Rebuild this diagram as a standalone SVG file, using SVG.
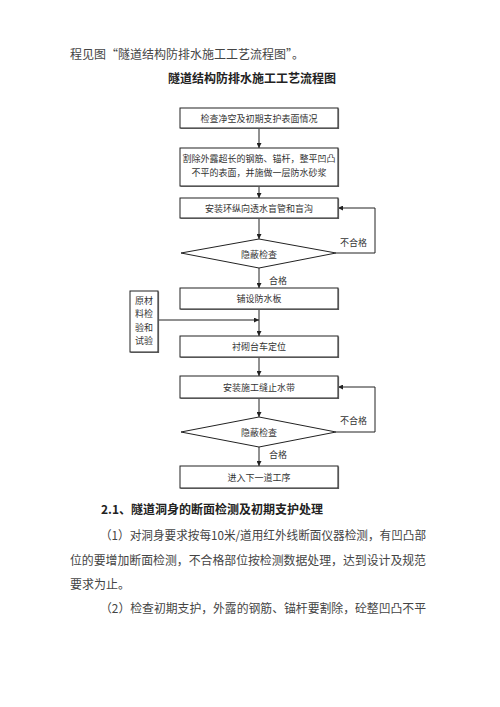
<svg xmlns="http://www.w3.org/2000/svg" width="500" height="707" viewBox="0 0 500 707">
<defs>
<style>
.bg{fill:#fff}
.box{fill:#fff;stroke:#222;stroke-width:1}
.sh{fill:none;stroke:#555;stroke-width:1.2}
.ln{fill:none;stroke:#222;stroke-width:1}
.t{font-family:"Noto Sans CJK SC","Noto Sans CJK JP",sans-serif;font-size:9px;fill:#333;text-anchor:middle;dominant-baseline:central}
.lb{font-family:"Noto Sans CJK SC","Noto Sans CJK JP",sans-serif;font-size:9px;fill:#333;dominant-baseline:central}
.body{font-family:"Noto Sans CJK SC","Noto Sans CJK JP",sans-serif;font-size:12px;fill:#444;dominant-baseline:central}
.hd{font-family:"Noto Sans CJK SC","Noto Sans CJK JP",sans-serif;font-size:12px;font-weight:bold;fill:#222;dominant-baseline:central}
</style>
<marker id="ah" viewBox="0 0 10 10" refX="10" refY="5" markerWidth="5" markerHeight="5" orient="auto" markerUnits="userSpaceOnUse">
<path d="M0,0 L10,5 L0,10 z" fill="#222"/>
</marker>
</defs>
<rect class="bg" x="0" y="0" width="500" height="707"/>

<g id="intro">
<text class="body" x="70" y="53">程见图“隧道结构防排水施工工艺流程图”。</text>
<text class="hd" x="252" y="77" text-anchor="middle">隧道结构防排水施工工艺流程图</text>
</g>

<g id="connectors">
<line class="ln" x1="259" y1="128" x2="259" y2="148" marker-end="url(#ah)"/>
<line class="ln" x1="259" y1="186" x2="259" y2="198" marker-end="url(#ah)"/>
<line class="ln" x1="259" y1="218" x2="259" y2="239" marker-end="url(#ah)"/>
<polyline class="ln" points="336,253 375,253 375,208 338,208" marker-end="url(#ah)"/>
<line class="ln" x1="259" y1="268" x2="259" y2="288" marker-end="url(#ah)"/>
<line class="ln" x1="259" y1="309" x2="259" y2="336" marker-end="url(#ah)"/>
<line class="ln" x1="158" y1="320" x2="259" y2="320" marker-end="url(#ah)"/>
<line class="ln" x1="259" y1="357" x2="259" y2="376" marker-end="url(#ah)"/>
<line class="ln" x1="259" y1="398" x2="259" y2="417" marker-end="url(#ah)"/>
<polyline class="ln" points="336,432 375,432 375,387 338,387" marker-end="url(#ah)"/>
<line class="ln" x1="259" y1="447" x2="259" y2="466" marker-end="url(#ah)"/>
<text class="lb" x="340" y="242">不合格</text>
<text class="lb" x="269" y="280">合格</text>
<text class="lb" x="340" y="420">不合格</text>
<text class="lb" x="269" y="454">合格</text>
</g>

<g id="n1">
<rect class="box" x="180" y="108" width="158" height="20"/>
<polyline class="sh" points="338.5,108.5 338.5,128.5 180.5,128.5"/>
<text class="t" x="259" y="118">检查净空及初期支护表面情况</text>
</g>
<g id="n2">
<rect class="box" x="180" y="148" width="158" height="38"/>
<polyline class="sh" points="338.5,148.5 338.5,186.5 180.5,186.5"/>
<text class="t" x="259" y="158">割除外露超长的钢筋、锚杆，整平凹凸</text>
<text class="t" x="259" y="172">不平的表面，并施做一层防水砂浆</text>
</g>
<g id="n3">
<rect class="box" x="180" y="198" width="158" height="20"/>
<polyline class="sh" points="338.5,198.5 338.5,218.5 180.5,218.5"/>
<text class="t" x="259" y="208">安装环纵向透水盲管和盲沟</text>
</g>
<g id="d1">
<polygon class="box" points="259,239 336,253 259,268 181,253"/>
<text class="t" x="259" y="254">隐蔽检查</text>
</g>
<g id="n4">
<rect class="box" x="180" y="288" width="158" height="21"/>
<polyline class="sh" points="338.5,288.5 338.5,309.5 180.5,309.5"/>
<text class="t" x="259" y="298">铺设防水板</text>
</g>
<g id="side">
<rect class="box" x="130" y="291" width="28" height="61"/>
<polyline class="sh" points="158.5,291.5 158.5,352.5 130.5,352.5"/>
<text class="t" x="144" y="300">原材</text>
<text class="t" x="144" y="313.5">料检</text>
<text class="t" x="144" y="327">验和</text>
<text class="t" x="144" y="340.5">试验</text>
</g>
<g id="n5">
<rect class="box" x="180" y="336" width="158" height="21"/>
<polyline class="sh" points="338.5,336.5 338.5,357.5 180.5,357.5"/>
<text class="t" x="259" y="346">衬砌台车定位</text>
</g>
<g id="n6">
<rect class="box" x="180" y="376" width="158" height="22"/>
<polyline class="sh" points="338.5,376.5 338.5,398.5 180.5,398.5"/>
<text class="t" x="259" y="387">安装施工缝止水带</text>
</g>
<g id="d2">
<polygon class="box" points="259,417 336,432 259,447 181,432"/>
<text class="t" x="259" y="432">隐蔽检查</text>
</g>
<g id="n7">
<rect class="box" x="180" y="466" width="158" height="22"/>
<polyline class="sh" points="338.5,466.5 338.5,488.5 180.5,488.5"/>
<text class="t" x="259" y="477">进入下一道工序</text>
</g>

<g id="body">
<text class="hd" x="101" y="508">2.1、隧道洞身的断面检测及初期支护处理</text>
<text class="body" x="100" y="534" textLength="326" lengthAdjust="spacingAndGlyphs">（1）对洞身要求按每10米/道用红外线断面仪器检测，有凹凸部</text>
<text class="body" x="70" y="559" textLength="356" lengthAdjust="spacingAndGlyphs">位的要增加断面检测，不合格部位按检测数据处理，达到设计及规范</text>
<text class="body" x="70" y="583">要求为止。</text>
<text class="body" x="100" y="607" textLength="326" lengthAdjust="spacingAndGlyphs">（2）检查初期支护，外露的钢筋、锚杆要割除，砼整凹凸不平</text>
</g>
</svg>
